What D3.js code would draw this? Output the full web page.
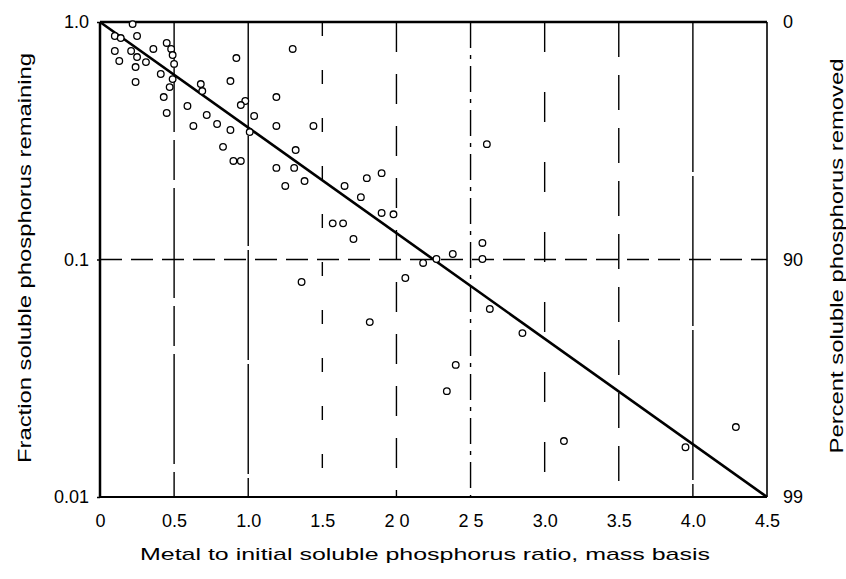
<!DOCTYPE html>
<html>
<head>
<meta charset="utf-8">
<script src="https://cdn.jsdelivr.net/npm/d3@7/dist/d3.min.js"></script>
<style>
  html, body { margin: 0; padding: 0; background: #fff; }
  svg { display: block; }
  text { font-family: "Liberation Sans", Arial, Helvetica, sans-serif; fill: #000; }
</style>
</head>
<body>
<div id="chart"></div>
<script>
// ---- data ----
const ratioValues = [0.22,0.10,0.14,0.25,0.10,0.13,0.21,0.25,0.31,0.24,0.24,0.36,0.45,0.48,0.49,0.50,0.41,0.49,0.47,0.43,
  0.45,0.59,0.63,0.72,0.79,0.88,0.68,0.69,0.88,0.92,0.98,0.95,1.04,1.01,0.83,0.90,0.95,1.19,1.19,1.30,
  1.32,1.19,1.31,1.25,1.44,1.38,1.65,1.76,1.80,1.90,1.90,1.98,1.57,1.64,1.71,1.36,2.06,2.18,2.27,2.38,
  2.58,2.58,2.61,1.82,2.63,2.85,2.40,2.34,3.13,3.95,4.29];
const fractionValues = [0.98,0.873,0.856,0.873,0.755,0.685,0.755,0.712,0.678,0.646,0.559,0.770,0.816,0.770,0.726,0.666,0.604,0.575,0.532,0.483,
  0.414,0.443,0.365,0.406,0.372,0.351,0.548,0.512,0.564,0.705,0.465,0.447,0.402,0.344,0.298,0.260,0.260,0.483,0.365,0.770,
  0.289,0.243,0.243,0.204,0.365,0.214,0.204,0.183,0.220,0.231,0.157,0.155,0.142,0.142,0.122,0.0804,0.0836,0.0967,0.1005,0.1055,
  0.1174,0.1005,0.306,0.0545,0.0619,0.0490,0.0360,0.0279,0.0172,0.0162,0.0197];
const fitRatio = [0, 4.5];
const fitFraction = [1.0, 0.01];
const xTickValues = [0, 0.5, 1.0, 1.5, 2.0, 2.5, 3.0, 3.5, 4.0, 4.5];
const xTickLabels = ["0", "0.5", "1.0", "1.5", "2 0", "2 5", "3.0", "3.5", "4.0", "4.5"];
const yTickValues = [1, 0.1, 0.01];
const yTickLabels = ["1.0", "0.1", "0.01"];
const rightTickLabels = ["0", "90", "99"];
const gridX = [0.5, 1.0, 1.5, 2.0, 2.5, 3.0, 3.5, 4.0];
const gridXDash = ["110,8,40,8", "110,4", "14,34", "30,22", "26,7,4,7", "30,40", "35,18", "150,4"];
const gridY = [0.1];
const xTitle = "Metal to initial soluble phosphorus ratio, mass basis";
const yTitle = "Fraction soluble phosphorus remaining";
const y2Title = "Percent soluble phosphorus removed";

// ---- layout ----
const W = 846, H = 579;
const L = 100, R = 767, T = 22, B = 497;

const svg = d3.select("#chart").append("svg").attr("width", W).attr("height", H);

const x = d3.scaleLinear().domain([0, 4.5]).range([L, R]);
const y = d3.scaleLog().domain([0.01, 1]).range([B, T]);

// gridlines
svg.append("g").selectAll("line").data(gridX).join("line")
  .attr("x1", d => x(d)).attr("x2", d => x(d))
  .attr("y1", T).attr("y2", B)
  .attr("stroke", "#000").attr("stroke-width", 1.4)
  .attr("stroke-dasharray", (d, i) => gridXDash[i]);
svg.append("g").selectAll("line").data(gridY).join("line")
  .attr("x1", L).attr("x2", R)
  .attr("y1", d => y(d)).attr("y2", d => y(d))
  .attr("stroke", "#000").attr("stroke-width", 1.4)
  .attr("stroke-dasharray", "22,9");

// frame
svg.append("line").attr("x1", L).attr("x2", R).attr("y1", T).attr("y2", T).attr("stroke", "#000").attr("stroke-width", 2.5);
svg.append("line").attr("x1", L).attr("x2", R).attr("y1", B).attr("y2", B).attr("stroke", "#000").attr("stroke-width", 2.2);
svg.append("line").attr("x1", L).attr("x2", L).attr("y1", T).attr("y2", B).attr("stroke", "#000").attr("stroke-width", 2.5);
svg.append("line").attr("x1", R).attr("x2", R).attr("y1", T).attr("y2", B).attr("stroke", "#000").attr("stroke-width", 1.6);

// fit line
const line = d3.line().x(d => x(d[0])).y(d => y(d[1]));
svg.append("path").datum(fitRatio.map((r, i) => [r, fitFraction[i]]))
  .attr("d", line).attr("fill", "none").attr("stroke", "#000").attr("stroke-width", 2.6);

// points
svg.append("g").selectAll("circle").data(ratioValues.map((r, i) => [r, fractionValues[i]])).join("circle")
  .attr("cx", d => x(d[0])).attr("cy", d => y(d[1])).attr("r", 3.3)
  .attr("fill", "#fff").attr("stroke", "#000").attr("stroke-width", 1.3);

// axes
function styleAxis(g) {
  g.select(".domain").remove();
  g.selectAll("text").attr("font-size", 18).attr("font-family", "'Liberation Sans', Arial, sans-serif").attr("fill", "#000");
  g.selectAll("line").attr("stroke", "#000").attr("stroke-width", 1.5);
}
svg.append("g").attr("transform", `translate(${L},0)`)
  .call(d3.axisLeft(y).tickValues(yTickValues).tickFormat((d, i) => yTickLabels[i]).tickSize(3).tickPadding(8))
  .call(styleAxis);
svg.append("g").attr("transform", `translate(0,${B})`)
  .call(d3.axisBottom(x).tickValues(xTickValues).tickFormat((d, i) => xTickLabels[i]).tickSize(0).tickPadding(17))
  .call(styleAxis);
svg.append("g").attr("transform", `translate(${R},0)`)
  .call(d3.axisRight(y).tickValues(yTickValues).tickFormat((d, i) => rightTickLabels[i]).tickSize(0).tickPadding(16))
  .call(styleAxis);

// titles
svg.append("text").attr("x", 425).attr("y", 560).attr("text-anchor", "middle")
  .attr("font-size", 17).attr("textLength", 570).attr("lengthAdjust", "spacingAndGlyphs").text(xTitle);
svg.append("text").attr("transform", "translate(31,258) rotate(-90)").attr("text-anchor", "middle")
  .attr("font-size", 18).attr("textLength", 410).attr("lengthAdjust", "spacingAndGlyphs").text(yTitle);
svg.append("text").attr("transform", "translate(843,256) rotate(-90)").attr("text-anchor", "middle")
  .attr("font-size", 18).attr("textLength", 395).attr("lengthAdjust", "spacingAndGlyphs").text(y2Title);
</script>
</body>
</html>
